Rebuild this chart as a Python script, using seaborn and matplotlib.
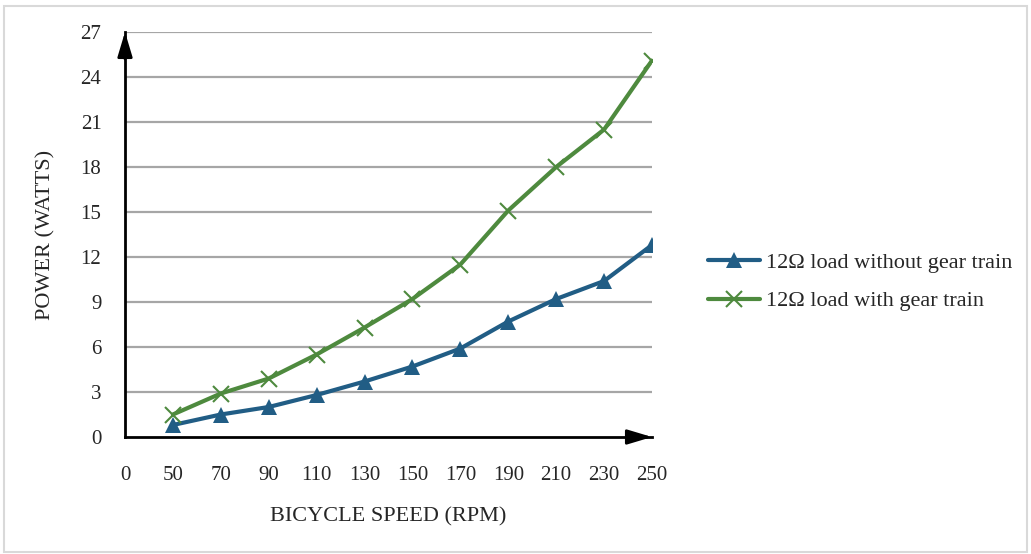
import numpy as np
import pandas as pd
import seaborn as sns
import matplotlib.pyplot as plt

# data
speed_labels = ['0', '50', '70', '90', '110', '130', '150', '170', '190', '210', '230', '250']
speed_rpm = [50, 70, 90, 110, 130, 150, 170, 190, 210, 230, 250]
power_no_gear = [0.8, 1.5, 2.0, 2.8, 3.7, 4.7, 5.9, 7.7, 9.2, 10.4, 12.8]
power_gear = [1.5, 2.9, 3.9, 5.5, 7.3, 9.2, 11.5, 15.1, 18.0, 20.5, 25.1]
y_ticks = [0, 3, 6, 9, 12, 15, 18, 21, 24, 27]

sns.set_style('white')
plt.rcParams['font.family'] = ['Liberation Serif', 'DejaVu Serif']

# categorical x positions: "0" sits on the y axis, data start at slot 1
pos = np.arange(1, len(speed_rpm) + 1)
df = pd.DataFrame({'pos': pos, 'no_gear': power_no_gear, 'gear': power_gear})

fig = plt.figure(figsize=(10.31, 5.54), dpi=100)
ax = fig.add_axes([125 / 1031, 1 - 437 / 554, (652 - 125) / 1031, (437 - 32) / 554])

for yt in y_ticks[1:]:
    ax.axhline(yt, color='#a6a6a6', lw=1.6, zorder=0)

blue, green = '#215d85', '#4e8a3e'
sns.lineplot(data=df, x='pos', y='no_gear', ax=ax, color=blue, lw=3, linestyle='-',
             marker='^', markersize=12, markeredgewidth=0, markerfacecolor=blue,
             label='12Ω load without gear train', zorder=3)
sns.lineplot(data=df, x='pos', y='gear', ax=ax, color=green, lw=3, linestyle='-',
             marker='x', markersize=12, markeredgewidth=1.5, markeredgecolor=green,
             label='12Ω load with gear train', zorder=4)

ax.set_xlim(0, len(speed_rpm))
ax.set_ylim(0, 27)
ax.set_xticks(np.arange(len(speed_labels)))
ax.set_xticklabels(speed_labels, fontsize=15)
ax.set_yticks(y_ticks)
ax.set_yticklabels([str(v) for v in y_ticks], fontsize=15)
ax.tick_params(axis='x', length=5, width=1.5, direction='out', pad=16, color='black')
ax.tick_params(axis='y', length=6, width=1.5, direction='out', pad=11, color='black')

for s in ['top', 'right']:
    ax.spines[s].set_visible(False)
for s in ['left', 'bottom']:
    ax.spines[s].set_color('black')
    ax.spines[s].set_linewidth(2)

# arrow heads on the axes
ax.annotate('', xy=(0, 27), xytext=(0, 25.2), annotation_clip=False,
            arrowprops=dict(arrowstyle='-|>,head_length=1.5,head_width=0.45',
                            color='black', lw=2, shrinkA=0, shrinkB=0))
ax.annotate('', xy=(len(speed_rpm), 0), xytext=(len(speed_rpm) - 0.5, 0), annotation_clip=False,
            arrowprops=dict(arrowstyle='-|>,head_length=1.5,head_width=0.45',
                            color='black', lw=2, shrinkA=0, shrinkB=0))

ax.set_xlabel('BICYCLE SPEED (RPM)', fontsize=16, labelpad=16)
ax.set_ylabel('POWER (WATTS)', fontsize=16, labelpad=18)

ax.legend(loc='center left', bbox_to_anchor=(1.106, 0.383), frameon=False,
          borderaxespad=0, borderpad=0,
          fontsize=16, handlelength=2.35, handletextpad=0.25, labelspacing=0.8)

# light grey frame round the figure
fig.patches.append(plt.Rectangle((0.004, 0.004), 0.992, 0.985, transform=fig.transFigure,
                                 fill=False, edgecolor='#d9d9d9', lw=1.5))

fig.savefig('out.png', dpi=100)
